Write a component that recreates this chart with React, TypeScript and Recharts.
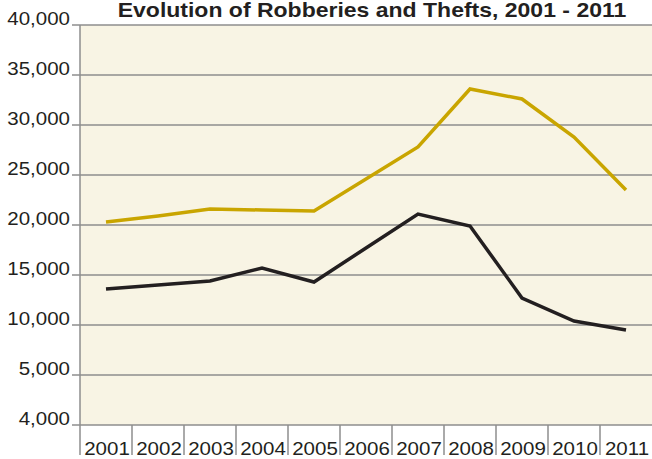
import { CartesianGrid, Line, LineChart, XAxis, YAxis } from "recharts";

const YEARS = ["2001", "2002", "2003", "2004", "2005", "2006", "2007", "2008", "2009", "2010", "2011"];
const ROBBERIES = [20300, 20900, 21600, 21500, 21400, 24600, 27800, 33600, 32600, 28800, 23500];
const THEFTS = [13600, 14000, 14400, 15700, 14300, 17700, 21100, 19900, 12700, 10400, 9500];
const Y_TICKS = [0, 5000, 10000, 15000, 20000, 25000, 30000, 35000, 40000];
const Y_TICK_LABELS = ["4,000", "5,000", "10,000", "15,000", "20,000", "25,000", "30,000", "35,000", "40,000"];

const W = 652;
const H = 459;
const LEFT = 80;
const TOP = 25;
const X_AXIS_H = 34;
const BAND = (W - LEFT) / YEARS.length;
const STRETCH = 1.14;
const GRID = "#8e8e8e";
const INK = "#231f20";
const GOLD = "#c9a500";

const data = YEARS.map((year, i) => ({ year, robberies: ROBBERIES[i], thefts: THEFTS[i] }));

function YTick({ x, y, payload }: any) {
  const idx = Y_TICKS.indexOf(payload.value);
  return (
    <text
      transform={`translate(${x - 2},${y}) scale(${STRETCH},1)`}
      textAnchor="end"
      fontSize={18}
      fontFamily="Liberation Sans, Arial, sans-serif"
      fill={INK}
    >
      {Y_TICK_LABELS[idx]}
    </text>
  );
}

function XTick({ x, y, payload }: any) {
  return (
    <g>
      <line x1={x - BAND / 2} x2={x - BAND / 2} y1={y} y2={y + 30} stroke={GRID} strokeWidth={1.5} />
      <text
        transform={`translate(${x + 1},${y + 30}) scale(${STRETCH},1)`}
        textAnchor="middle"
        fontSize={18}
        fontFamily="Liberation Sans, Arial, sans-serif"
        fill={INK}
      >
        {payload.value}
      </text>
    </g>
  );
}

export default function App() {
  return (
    <div style={{ position: "absolute", left: 0, top: 0, width: W, height: H, background: "#fff" }}>
      <LineChart width={W} height={H} data={data} margin={{ top: TOP, right: 0, bottom: 0, left: 0 }}>
        <CartesianGrid vertical={false} stroke={GRID} strokeWidth={1.5} fill="#f8f4e4" fillOpacity={1} />
        <XAxis
          dataKey="year"
          height={X_AXIS_H}
          axisLine={false}
          tickLine={false}
          tickSize={0}
          tickMargin={0}
          interval={0}
          padding={{ left: BAND / 2, right: BAND / 2 }}
          tick={<XTick />}
        />
        <YAxis
          width={LEFT}
          domain={[0, 40000]}
          ticks={Y_TICKS}
          interval={0}
          axisLine={{ stroke: GRID, strokeWidth: 1.5 }}
          tickLine={{ stroke: GRID, strokeWidth: 1.5 }}
          tickSize={8}
          tickMargin={0}
          tick={<YTick />}
        />
        <Line dataKey="robberies" stroke={GOLD} strokeWidth={3.5} dot={false} isAnimationActive={false} strokeLinejoin="miter" />
        <Line dataKey="thefts" stroke={INK} strokeWidth={3.5} dot={false} isAnimationActive={false} strokeLinejoin="miter" />
      </LineChart>
      <svg width={W} height={30} style={{ position: "absolute", left: 0, top: 0 }}>
        <text
          transform={`translate(372,17) scale(1.18,1)`}
          textAnchor="middle"
          fontSize={19.5}
          fontWeight="bold"
          fontFamily="Liberation Sans, Arial, sans-serif"
          fill={INK}
        >
          Evolution of Robberies and Thefts, 2001 - 2011
        </text>
      </svg>
    </div>
  );
}
